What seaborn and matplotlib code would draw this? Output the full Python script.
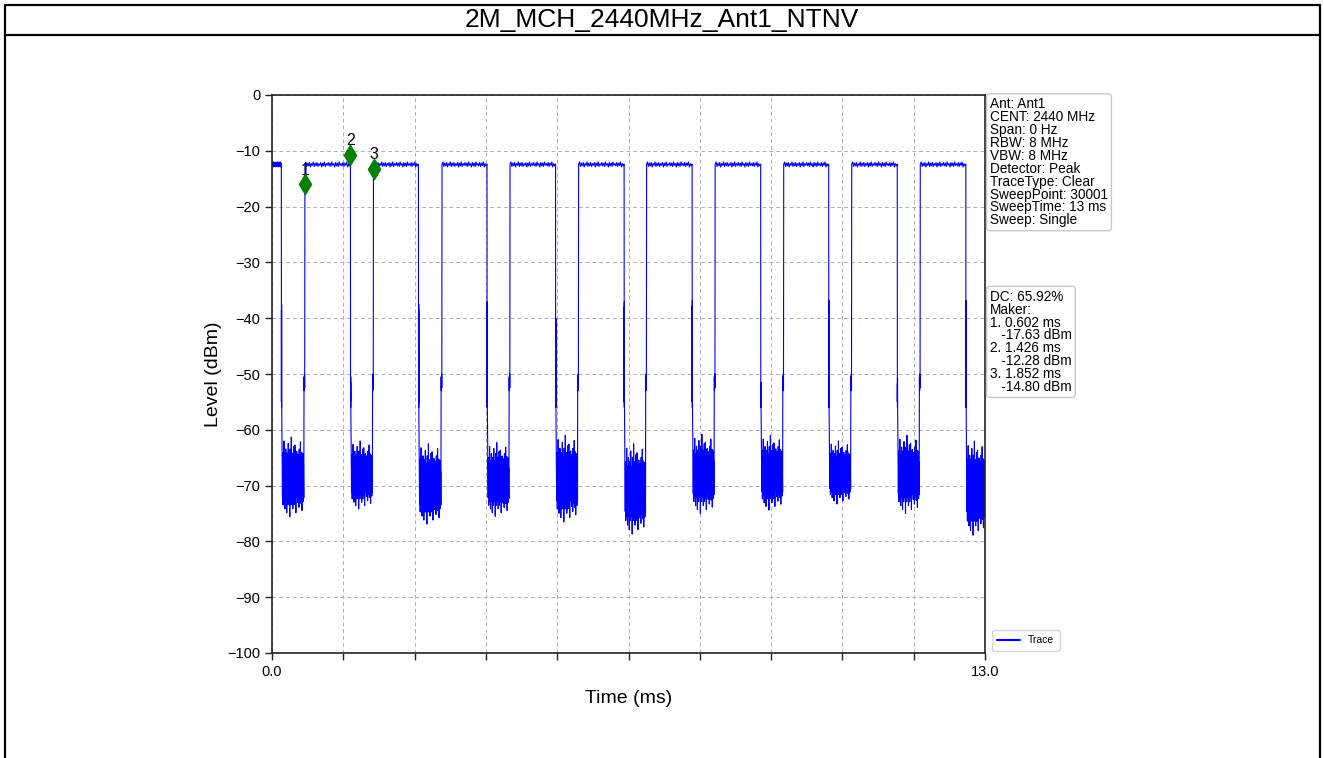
import matplotlib
matplotlib.use("Agg")
import matplotlib.pyplot as plt
from matplotlib.lines import Line2D
import seaborn as sns
import numpy as np
import pandas as pd

# Chart text
TITLE = "2M_MCH_2440MHz_Ant1_NTNV"
X_LABEL = "Time (ms)"
Y_LABEL = "Level (dBm)"
SETTINGS_TEXT = ("Ant: Ant1\nCENT: 2440 MHz\nSpan: 0 Hz\nRBW: 8 MHz\nVBW: 8 MHz\n"
                 "Detector: Peak\nTraceType: Clear\nSweepPoint: 30001\n"
                 "SweepTime: 13 ms\nSweep: Single")
RESULT_TEXT = ("DC: 65.92%\nMaker:\n1. 0.602 ms\n   -17.63 dBm\n2. 1.426 ms\n"
               "   -12.28 dBm\n3. 1.852 ms\n   -14.80 dBm")

# Sweep / trace values (time in ms, level in dBm)
SWEEP_TIME = 13.0
HIGH_LEVEL = -12.4
fall_times = [0.17, 1.43, 2.67, 3.92, 5.17, 6.42, 7.66, 8.91, 10.15, 11.40, 12.65]
rise_times = [0.60, 1.85, 3.10, 4.34, 5.59, 6.83, 8.08, 9.33, 10.57, 11.82]
fall_spike = [-36.5, -49.5, -36.5, -36.0, -39.0, -36.0, -35.8, -50.5, -35.8, -49.7, -35.8]
noise_top = [-61.3, -62.0, -62.5, -62.3, -61.0, -62.5, -60.8, -61.0, -62.0, -61.0, -62.0]
noise_bottom = [-75.6, -74.2, -76.9, -75.5, -76.5, -78.7, -75.0, -74.4, -73.3, -75.0, -78.9]
noise_shape = [0.30, 0.75, 0.20, 0.85, 0.35, 0.70, 0.05, 0.80, 0.25, 0.90, 0.30, 0.65,
               0.15, 0.80, 0.40, 0.95, 0.20, 0.75, 0.30, 0.85, 0.08, 0.70, 0.35, 0.80,
               0.25, 1.00, 0.15, 0.75, 0.30, 0.85, 0.00, 0.70, 0.35, 0.80, 0.20, 0.90,
               0.30, 0.75, 0.12, 0.85, 0.25, 0.70, 0.10, 0.80, 0.35, 0.95, 0.20, 0.75,
               0.18, 0.72, 0.28, 0.82, 0.22, 0.68, 0.33, 0.88, 0.15, 0.78, 0.26, 0.70,
               0.06, 0.83, 0.31, 0.74, 0.19, 0.92, 0.27, 0.69, 0.21, 0.81, 0.34, 0.76]
plateau_ripple = [-12.0, -12.8, -12.2, -12.7, -12.1, -12.9, -12.3, -12.6, -12.0, -12.8,
                  -12.2, -12.7, -12.1, -12.8, -12.3, -12.6, -12.1, -12.9, -12.2, -12.7,
                  -12.0, -12.8, -12.3, -12.6, -12.1, -12.7, -12.2, -12.8, -12.0, -12.6,
                  -12.3, -12.9, -12.1, -12.7, -12.2, -12.8, -12.0, -12.6, -12.3, -12.7,
                  -12.1, -12.8, -12.2, -12.6, -12.0, -12.9, -12.3, -12.7]
rise_blob = [-50.5, -53.0, -50.0, -52.5]
fall_tail = [-55.0, -56.0, -54.0]

# Markers
marker_labels = ["1", "2", "3"]
marker_times = [0.602, 1.426, 1.852]
marker_levels = [-17.63, -12.28, -14.80]
MARKER_OFFSET = 1.6

x_ticks = np.linspace(0, SWEEP_TIME, 11)
y_ticks = np.arange(-100, 1, 10)


def build_trace():
    """
    assemble the trace points from the edge times and levels above
    """
    times, levels = [0.0], [HIGH_LEVEL]
    start = 0.0
    for i, fall in enumerate(fall_times):
        n = len(plateau_ripple)
        for k, val in enumerate(plateau_ripple):
            times.append(start + (fall - start) * (k + 1) / (n + 1))
            levels.append(val)
        spike = fall_spike[i]
        times += [fall + 0.001 * k for k in range(8)]
        levels += [HIGH_LEVEL, spike, fall_tail[0], spike - 2, fall_tail[1],
                   spike - 1, fall_tail[2], fall_tail[1]]
        has_rise = i < len(rise_times)
        end = rise_times[i] if has_rise else SWEEP_TIME
        noise_t = np.linspace(fall + 0.015, end - (0.02 if has_rise else 0.0), len(noise_shape))
        for t, s in zip(noise_t, noise_shape):
            times.append(t)
            levels.append(noise_top[i] + s * (noise_bottom[i] - noise_top[i]))
        if has_rise:
            times += [end - 0.016, end - 0.012, end - 0.008, end - 0.004, end]
            levels += rise_blob + [HIGH_LEVEL]
            start = end
    return pd.DataFrame({"time": times, "level": levels})


sns.set_theme(style="ticks", rc={"text.color": "black", "axes.labelcolor": "black",
                                 "xtick.color": "black", "ytick.color": "black"})
plt.rcParams["font.family"] = ["Liberation Sans", "DejaVu Sans"]
plt.rcParams["axes.unicode_minus"] = True

fig = plt.figure(figsize=(13.24, 7.58), dpi=100)
ax = fig.add_axes([272 / 1324, 105 / 758, 713 / 1324, 558 / 758])

trace = build_trace()
sns.lineplot(data=trace, x="time", y="level", ax=ax, color="blue", linewidth=0.8,
             estimator=None, sort=False, label="Trace")

marks = pd.DataFrame({"time": marker_times,
                      "level": np.array(marker_levels) + MARKER_OFFSET})
sns.scatterplot(data=marks, x="time", y="level", ax=ax, marker="d", s=110,
                color="green", edgecolor="green", zorder=5, legend=False)
for lab, t, lv in zip(marker_labels, marks["time"], marks["level"]):
    ax.text(t, lv + 1.2, lab, ha="center", va="bottom", fontsize=11.5, color="black")

ax.set_xlim(0, SWEEP_TIME)
ax.set_ylim(-100, 0)
ax.set_xticks(x_ticks)
ax.set_xticklabels(["0.0"] + [""] * 9 + ["13.0"])
ax.set_yticks(y_ticks)
ax.tick_params(axis="both", labelsize=10.5, length=5, width=1, color="#222222")
ax.grid(True, color="#b0b0b0", linestyle=(0, (4, 3)), linewidth=0.7)
for sp in ax.spines.values():
    sp.set_visible(True)
    sp.set_color("#222222")
    sp.set_linewidth(1.2)
ax.set_xlabel(X_LABEL, fontsize=14, labelpad=8)
ax.set_ylabel(Y_LABEL, fontsize=14, labelpad=4)

box = dict(boxstyle="round,pad=0.25", facecolor="white", edgecolor="#c8c8c8", linewidth=1)
ax.text(1.007, 0.996, SETTINGS_TEXT, transform=ax.transAxes, ha="left", va="top",
        fontsize=9.8, linespacing=0.9, bbox=box)
ax.text(1.007, 0.651, RESULT_TEXT, transform=ax.transAxes, ha="left", va="top",
        fontsize=9.8, linespacing=0.9, bbox=box)
leg = ax.legend(loc="lower left", bbox_to_anchor=(1.002, -0.005), fontsize=7.5,
                frameon=True, handlelength=2.2, borderpad=0.5, fancybox=True)
for handle in leg.get_lines():
    handle.set_linewidth(1.5)

# page frame and title cell
W, H = 1324, 758
frame = [((5, 5), (5, H)), ((1320, 1320), (5, H)), ((5, 1320), (5, 5)), ((5, 1320), (35, 35))]
for xs, ys in frame:
    fig.add_artist(Line2D([x / W for x in xs], [1 - y / H for y in ys],
                          transform=fig.transFigure, color="black", linewidth=1.6))
fig.text(0.5, 1 - 19.5 / H, TITLE, ha="center", va="center", fontsize=19)

fig.savefig("out.png", dpi=100)
plt.close(fig)
